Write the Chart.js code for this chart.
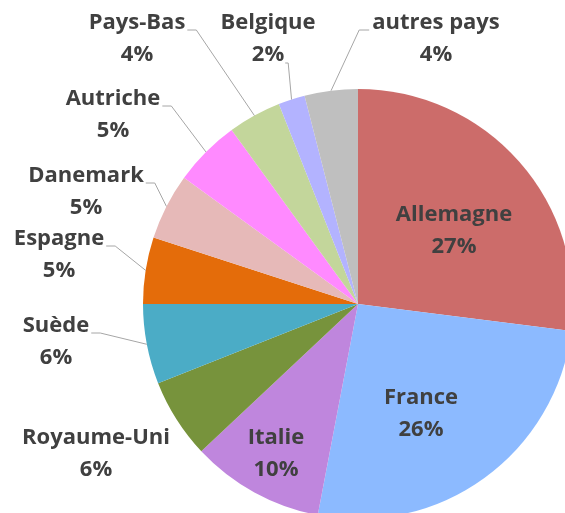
<!DOCTYPE html>
<html>
<head>
<meta charset="utf-8">
<script src="https://cdn.jsdelivr.net/npm/chart.js@4"></script>
<style>
    html, body { margin: 0; padding: 0; background: #fff; overflow: hidden; }
    #wrap { width: 565px; height: 513px; overflow: hidden; position: relative; }
    /* canvas a bit bigger than the window, the pie runs past the right and bottom edges */
    #inner { width: 573px; height: 519px; position: absolute; left: 0; top: 0; }
</style>
</head>
<body>
<div id="wrap"><div id="inner"><canvas id="pieChart"></canvas></div></div>
<script>
    // Data
    const countries = ['Allemagne', 'France', 'Italie', 'Royaume-Uni', 'Suède', 'Espagne',
        'Danemark', 'Autriche', 'Pays-Bas', 'Belgique', 'autres pays'];
    const shares = [27, 26, 10, 6, 6, 5, 5, 5, 4, 2, 4];
    const percentLabels = shares.map(v => v + '%');

    const sliceColors = ['#CC6C6A', '#8CBAFF', '#BF86DD', '#77933C', '#4BACC6', '#E46C0A',
        '#E6B9B8', '#FF8AFF', '#C3D69B', '#B3B3FF', '#BFBFBF'];

    // where each label sits (centre of first line) and how its leader line leaves it
    const labelLayout = [
        { x: 454, y: 215 },
        { x: 421, y: 398 },
        { x: 276, y: 438 },
        { x: 96, y: 438 },
        { x: 56, y: 326, lead: 'r1' },
        { x: 59, y: 239, lead: 'r1' },
        { x: 86, y: 176, lead: 'r1' },
        { x: 113, y: 99, lead: 'r1' },
        { x: 137, y: 23, lead: 'r1' },
        { x: 268, y: 23, lead: 'r2' },
        { x: 436, y: 23, lead: 'l1' }
    ];

    const FONT = 'bold 22px "Open Sans"';
    const LINE_GAP = 32;

    const pieLabels = {
        id: 'pieLabels',
        afterDatasetsDraw(chart) {
            const ctx = chart.ctx;
            const arcs = chart.getDatasetMeta(0).data;
            ctx.save();
            ctx.font = FONT;
            ctx.textAlign = 'center';
            ctx.textBaseline = 'middle';

            arcs.forEach((arc, i) => {
                const p = arc.getProps(['x', 'y', 'startAngle', 'endAngle', 'outerRadius'], true);
                const pos = labelLayout[i];
                const name = countries[i];
                const pct = percentLabels[i];

                if (pos.lead) {
                    const mid = (p.startAngle + p.endAngle) / 2;
                    const ex = p.x + Math.cos(mid) * p.outerRadius;
                    const ey = p.y + Math.sin(mid) * p.outerRadius;
                    let sx, sy, kx;
                    if (pos.lead === 'r1') {
                        sx = pos.x + ctx.measureText(name).width / 2 + 2;
                        sy = pos.y + 7;
                        kx = sx + 9;
                    } else if (pos.lead === 'r2') {
                        sx = pos.x + ctx.measureText(pct).width / 2 + 1;
                        sy = pos.y + LINE_GAP + 8;
                        kx = sx + 3;
                    } else {
                        sx = pos.x - ctx.measureText(name).width / 2 - 3;
                        sy = pos.y + 7;
                        kx = sx - 10;
                    }
                    ctx.beginPath();
                    ctx.moveTo(sx, sy);
                    ctx.lineTo(kx, sy);
                    ctx.lineTo(ex, ey);
                    ctx.strokeStyle = '#A6A6A6';
                    ctx.lineWidth = 1;
                    ctx.stroke();
                }

                ctx.fillStyle = '#404040';
                ctx.fillText(name, pos.x, pos.y);
                ctx.fillText(pct, pos.x, pos.y + LINE_GAP);
            });
            ctx.restore();
        }
    };

    const ctx = document.getElementById('pieChart').getContext('2d');
    new Chart(ctx, {
        type: 'pie',
        data: {
            labels: countries,
            datasets: [{
                data: shares,
                backgroundColor: sliceColors,
                borderWidth: 0
            }]
        },
        options: {
            responsive: true,
            maintainAspectRatio: false,
            animation: false,
            // pie centre (358, 304), radius 215
            layout: { padding: { left: 143, right: 0, top: 89, bottom: 0 } },
            plugins: {
                legend: { display: false },
                tooltip: { enabled: false }
            }
        },
        plugins: [pieLabels]
    });
</script>
</body>
</html>
